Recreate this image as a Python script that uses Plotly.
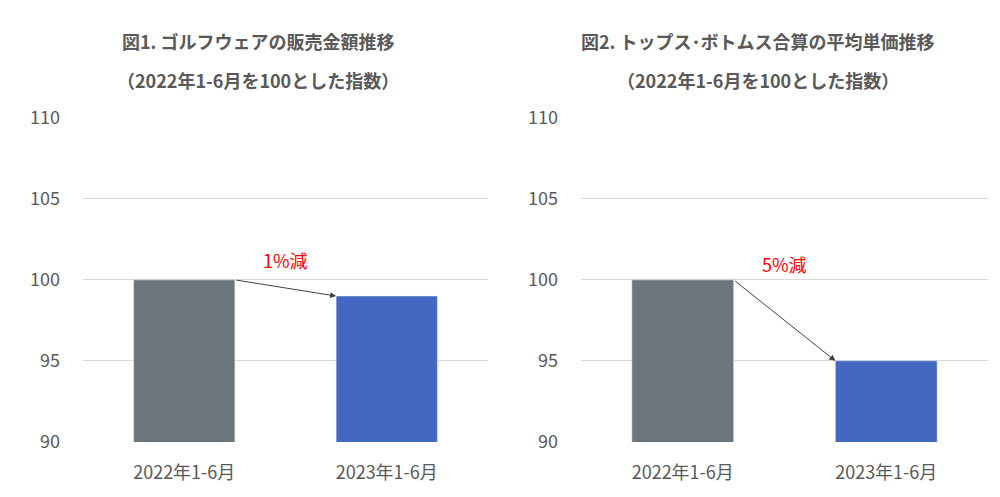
import plotly.graph_objects as go

categories = ["2022年1-6月", "2023年1-6月"]
sales = [100, 99]
price = [100, 95]
colors = ["#6b767b", "#4468c2"]
titles = [["図1. ゴルフウェアの販売金額推移", "（2022年1-6月を100とした指数）"],
          ["図2. トップス･ボトムス合算の平均単価推移", "（2022年1-6月を100とした指数）"]]
labels = ["1%減", "5%減"]
label_y = [101.2, 101.0]

fig = go.Figure()
fig.add_trace(go.Bar(x=categories, y=sales, marker_color=colors, width=0.5, xaxis="x", yaxis="y", base=0))
fig.add_trace(go.Bar(x=categories, y=price, marker_color=colors, width=0.5, xaxis="x2", yaxis="y2", base=0))

font = "Noto Sans CJK JP"
ax = dict(showgrid=False, showline=False, tickfont=dict(size=18, color="#595959", family=font),
          ticks="", automargin=False, ticklabelstandoff=18)
ay = dict(range=[90, 110], dtick=5, showgrid=True, gridcolor="#d9d9d9", zeroline=False,
          tickfont=dict(size=18, color="#595959", family=font), domain=[0.127, 0.779],
          automargin=False, ticklabelstandoff=22)
fig.update_layout(
    width=1000, height=497, margin=dict(l=0, r=0, t=0, b=0),
    plot_bgcolor="white", paper_bgcolor="white", showlegend=False,
    xaxis=dict(domain=[0.075, 0.48], **ax),
    xaxis2=dict(domain=[0.573, 0.98], **ax),
    yaxis=dict(anchor="x", **ay),
    yaxis2=dict(anchor="x2", **ay),
)
data = [sales, price]
for i, (xr, yr) in enumerate([("x", "y"), ("x2", "y2")]):
    fig.add_annotation(x=0.75, y=data[i][1], ax=0.25, ay=data[i][0], xref=xr, yref=yr,
                       axref=xr, ayref=yr, showarrow=True, arrowhead=2, arrowsize=1.2,
                       arrowwidth=1, arrowcolor="#404040", text="")
    fig.add_annotation(x=0.5, y=label_y[i], xref=xr, yref=yr, text=labels[i], showarrow=False,
                       font=dict(size=18, color="#ff0000", family=font))
    for j, t in enumerate(titles[i]):
        fig.add_annotation(x=[0.25, 0.75][i], xanchor="center", y=[1 - 33 / 497, 1 - 72 / 497][j],
                           xref="paper", yref="paper", yanchor="middle",
                           text="<b>" + t + "</b>", showarrow=False,
                           font=dict(size=18, color="#595959", family=font))
fig.write_html("out.html")
